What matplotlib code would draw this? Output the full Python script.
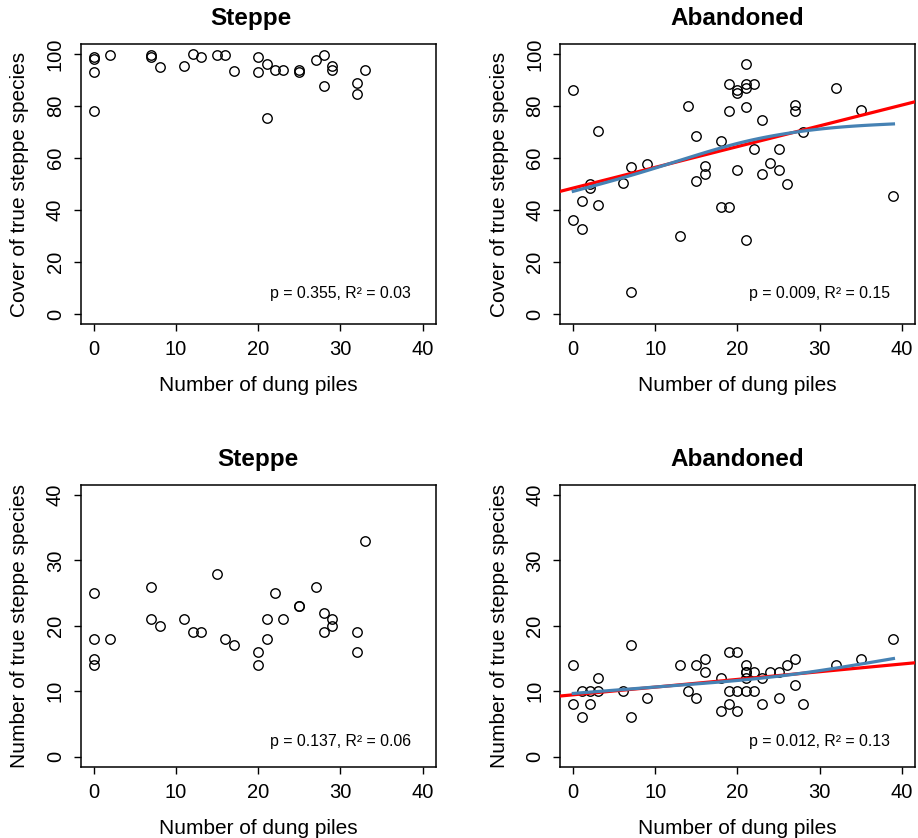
import numpy as np
import matplotlib
matplotlib.use("Agg")
import matplotlib.pyplot as plt

plt.rcParams['font.family'] = ['Liberation Sans', 'DejaVu Sans']

# Steppe plots (30 plots)
steppe_dung = [0, 0, 0, 0, 2, 7, 7, 8, 11, 12, 13, 15, 16, 17, 20, 20, 21, 21,
               22, 23, 25, 25, 27, 28, 28, 29, 29, 32, 32, 33]
steppe_cover = [99, 98, 93, 78, 99.5, 99.5, 99, 95, 95.5, 100, 99, 99.5, 99.5, 93.5,
                99, 93, 96, 75.5, 94, 94, 94, 93, 97.5, 99.5, 87.5, 95.5, 94, 89, 84.5, 94]
steppe_number = [25, 18, 15, 14, 18, 26, 21, 20, 21, 19, 19, 28, 18, 17, 16, 14,
                 21, 18, 25, 21, 23, 23, 26, 22, 19, 21, 20, 19, 16, 33]

# Abandoned plots (45 plots)
aband_dung = [0, 0, 1, 1, 2, 2, 3, 3, 6, 7, 7, 9, 13, 14, 15, 15, 16, 16, 18, 18,
              19, 19, 19, 20, 20, 20, 21, 21, 21, 21, 21, 22, 22, 23, 23, 24, 25, 25,
              26, 27, 27, 28, 32, 35, 39]
aband_cover = [86, 36, 43.5, 32.5, 50, 48.5, 70.5, 42, 50.5, 56.5, 8.5, 57.5, 30, 80,
               68.5, 51, 57, 54, 66.5, 41, 88.5, 78, 41, 86, 85, 55.5, 96, 88.5, 87, 79.5,
               28.5, 88.5, 63.5, 74.5, 54, 58, 63.5, 55.5, 50, 80.5, 78, 70, 87, 78.5, 45.5]
aband_number = [14, 8, 10, 6, 10, 8, 12, 10, 10, 17, 6, 9, 14, 10, 14, 9, 15, 13, 12, 7,
                16, 10, 8, 16, 10, 7, 14, 13, 13, 12, 10, 13, 10, 12, 8, 13, 13, 9,
                14, 15, 11, 8, 14, 15, 18]

stats_text = ["p = 0.355, R\u00b2 = 0.03", "p = 0.009, R\u00b2 = 0.15",
              "p = 0.137, R\u00b2 = 0.06", "p = 0.012, R\u00b2 = 0.13"]


def smooth_fit(x, y, xs, lam=300.0):
    """Penalised cubic B-spline smoother (GAM-like) fitted to the points."""
    x = np.asarray(x, float)
    y = np.asarray(y, float)
    knots = np.linspace(-5, 44, 20)
    step = knots[1] - knots[0]

    def basis(v):
        t = np.abs((np.asarray(v, float)[:, None] - knots[None, :]) / step)
        return np.where(t < 1, 2 / 3 - t ** 2 + t ** 3 / 2,
                        np.where(t < 2, (2 - t) ** 3 / 6, 0.0))

    B = basis(x)
    D = np.diff(np.eye(len(knots)), 2, axis=0)
    coef = np.linalg.solve(B.T @ B + lam * D.T @ D, B.T @ y)
    return basis(xs) @ coef


def panel(rect, x, y, title, ylabel, ymax, txt, txt_y, fit=False, title_x=0.5):
    ax = fig.add_axes(rect)
    ax.plot(x, y, 'o', ms=6.8, mfc='none', mec='black', mew=1.0, zorder=3)
    if fit:
        m, b = np.polyfit(x, y, 1)
        ax.axline((0, b), slope=m, color='#ff0000', lw=2.3, zorder=4)
        xs = np.linspace(min(x), max(x), 100)
        ax.plot(xs, smooth_fit(x, y, xs), color='#4682b4', lw=2.3, zorder=5)
    ax.set_xlim(-1.6, 41.6)
    ax.set_ylim(-0.04 * ymax, 1.04 * ymax)
    ax.set_xticks([0, 10, 20, 30, 40])
    ax.set_yticks(np.arange(0, ymax + 1, 20 if ymax == 100 else 10))
    for lab in ax.get_yticklabels():
        lab.set_rotation(90)
        lab.set_va('center')
    ax.tick_params(direction='out', length=5.3, width=1, labelsize=14.5, pad=6)
    for s in ax.spines.values():
        s.set_linewidth(1.1)
    ax.set_title(title, fontsize=17.5, fontweight='bold', pad=13.4, x=title_x)
    ax.set_xlabel("Number of dung piles", fontsize=15, labelpad=12)
    ax.set_ylabel(ylabel, fontsize=15, labelpad=12)
    ax.text(30, txt_y, txt, fontsize=11.4, ha='center', va='center')
    return ax


fig = plt.figure(figsize=(9.18, 8.38), dpi=100)

panel([0.0879, 0.6129, 0.3869, 0.3351], steppe_dung, steppe_cover, "Steppe",
      "Cover of true steppe species", 100, stats_text[0], 7.8, title_x=0.478)
panel([0.6102, 0.6129, 0.3863, 0.3351], aband_dung, aband_cover, "Abandoned",
      "Cover of true steppe species", 100, stats_text[1], 7.8, fit=True)
panel([0.0879, 0.0845, 0.3869, 0.3373], steppe_dung, steppe_number, "Steppe",
      "Number of true steppe species", 40, stats_text[2], 2.4)
panel([0.6102, 0.0845, 0.3863, 0.3373], aband_dung, aband_number, "Abandoned",
      "Number of true steppe species", 40, stats_text[3], 2.4, fit=True)

fig.savefig("out.png", dpi=100)
